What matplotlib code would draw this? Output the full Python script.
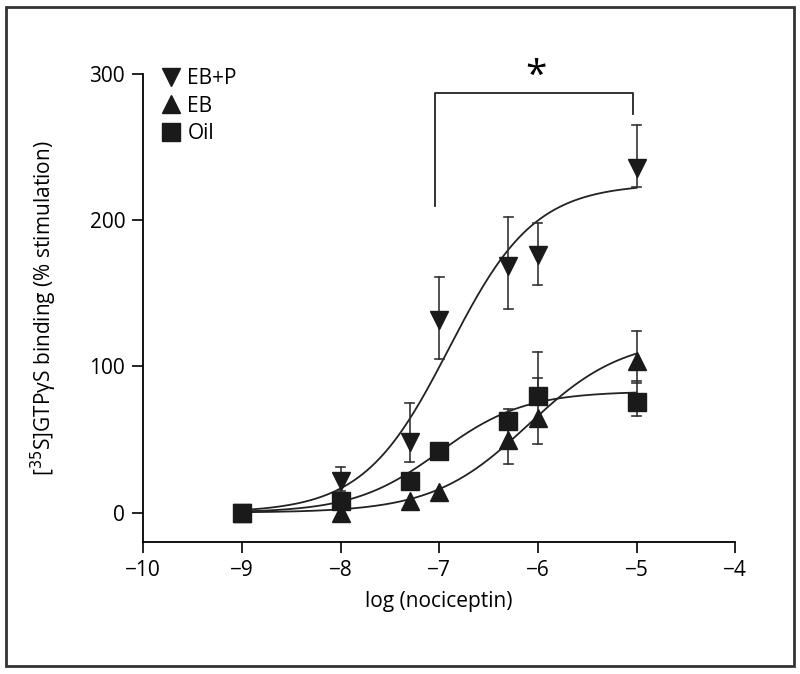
import numpy as np
import matplotlib.pyplot as plt
from matplotlib.patches import Rectangle

plt.rcParams['font.family'] = ['Open Sans', 'DejaVu Sans']

''' data '''
log_conc = [-9, -8, -7.3, -7, -6.3, -6, -5]

ebp_mean = [0, 22, 48, 132, 169, 176, 236]
ebp_err_lo = [0, 7, 13, 27, 30, 20, 13]
ebp_err_hi = [0, 9, 27, 29, 33, 22, 29]

eb_mean = [0, 0, 8, 14, 50, 65, 104]
eb_err_lo = [0, 0, 0, 0, 17, 18, 15]
eb_err_hi = [0, 0, 0, 0, 17, 27, 20]

oil_mean = [0, 8, 22, 42, 63, 80, 76]
oil_err_lo = [0, 0, 0, 0, 0, 0, 10]
oil_err_hi = [0, 0, 0, 5, 8, 30, 14]

# fitted sigmoid parameters (bottom, top, logEC50, hill)
ebp_fit = (0, 225, -6.9, 1.0)
eb_fit = (0, 120, -6.1, 0.9)
oil_fit = (0, 83, -7.0, 1.0)

''' plot '''
fig = plt.figure(figsize=(8, 6.74), dpi=100)
ax = fig.add_axes([0.179, 0.196, 0.740, 0.694])

xfit = np.linspace(-9, -5, 200)
def sigmoid(x, p):
    bottom, top, ec50, hill = p
    return bottom + (top - bottom) / (1 + 10 ** ((ec50 - x) * hill))

cap = 0.045  # half width of error caps in x units
for mean, lo, hi, fit, mk, lab in [(ebp_mean, ebp_err_lo, ebp_err_hi, ebp_fit, 'v', 'EB+P'),
                                   (eb_mean, eb_err_lo, eb_err_hi, eb_fit, '^', 'EB'),
                                   (oil_mean, oil_err_lo, oil_err_hi, oil_fit, 's', 'Oil')]:
    ax.plot(xfit, sigmoid(xfit, fit), color='#222222', lw=1.3, zorder=2)
    for x, m, l, h in zip(log_conc, mean, lo, hi):
        if h > 0:
            ax.plot([x, x], [m, m + h], color='#333333', lw=1.2, zorder=2)
            ax.plot([x - cap, x + cap], [m + h, m + h], color='#333333', lw=1.2, zorder=2)
        if l > 0:
            ax.plot([x, x], [m, m - l], color='#333333', lw=1.2, zorder=2)
            ax.plot([x - cap, x + cap], [m - l, m - l], color='#333333', lw=1.2, zorder=2)
    ax.plot(log_conc, mean, mk, color='#1a1a1a', ms=13, ls='none', label=lab, zorder=3)

# significance bracket
ax.plot([-7.04, -7.04, -5.04, -5.04], [210, 287, 287, 273], color='#222222', lw=1.3)
ax.text(-6.02, 285, '*', ha='center', va='bottom', fontsize=28)

ax.set_xlim(-10, -4)
ax.set_ylim(-20, 300)
ax.set_xticks([-10, -9, -8, -7, -6, -5, -4])
ax.set_xticklabels(['\u221210', '\u22129', '\u22128', '\u22127', '\u22126', '\u22125', '\u22124'])
ax.set_yticks([0, 100, 200, 300])
ax.spines['top'].set_visible(False)
ax.spines['right'].set_visible(False)
ax.tick_params(direction='out', length=8, width=1.2, labelsize=15, pad=5)
for s in ['left', 'bottom']:
    ax.spines[s].set_linewidth(1.3)

ax.set_xlabel('log (nociceptin)', fontsize=15, labelpad=7)
ax.set_ylabel('[$^{35}$S]GTP\u03b3S binding (% stimulation)', fontsize=15, labelpad=22)

ax.legend(loc='upper left', frameon=False,
          fontsize=15, handlelength=1.0, handletextpad=0.3, labelspacing=0.3,
          borderaxespad=0, bbox_to_anchor=(0.015, 1.03))

# outer frame
fig.patches.append(Rectangle((0.008, 0.012), 0.984, 0.978, transform=fig.transFigure,
                             fill=False, edgecolor='#333333', lw=2))

plt.savefig('out.png', dpi=100)
